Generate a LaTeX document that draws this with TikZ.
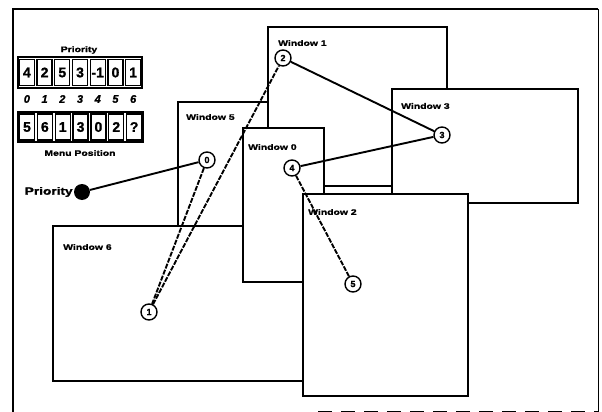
\documentclass[tikz,border=0pt]{standalone}
\usepackage{fontspec}
\newfontfamily\wfont[FakeStretch=1.3,FakeBold=1.5]{Liberation Sans}
\newfontfamily\nfont[FakeBold=1.2]{Liberation Sans}
\begin{document}
\begin{tikzpicture}[x=1pt,y=-1pt,
  win/.style={draw, line width=2pt, fill=white, anchor=north west, inner sep=0, outer sep=0},
  wlabel/.style={anchor=west, inner sep=0, font=\wfont\bfseries\fontsize{8}{9}\selectfont},
  ring/.style={circle, draw, line width=1.4pt, fill=white, minimum size=16pt, inner sep=0, font=\nfont\bfseries\fontsize{9}{9}\selectfont},
  link/.style={line width=1.9pt},
  dlink/.style={link, dash pattern=on 5pt off 1.4pt},
  cell/.style={draw, line width=1.3pt, minimum width=15pt, minimum height=26pt, inner sep=0, font=\nfont\bfseries\fontsize{14}{14}\selectfont},
  idx/.style={inner sep=0, font=\nfont\bfseries\itshape\fontsize{11}{11}\selectfont},
  small/.style={inner sep=0, font=\wfont\bfseries\fontsize{8}{9}\selectfont}]
\useasboundingbox (0,0) rectangle (602,412);
% frame
\draw[line width=2pt] (13,412) -- (13,9) -- (598,9);
\draw[line width=0.8pt] (598,9) -- (598,412);
\draw[line width=0.8pt, dash pattern=on 14pt off 9pt] (318,411) -- (598,411);
% priority table
\node[small] (ptitle) at (79,50) {Priority};
\draw[line width=1.8pt] (18,57) rectangle (142,88);
\foreach \v [count=\i from 0] in {4,2,5,3,-1,0,1}{
  \node[cell] (p\i) at ({26.9+17.71*\i},72.5) {\v};
}
\foreach \v [count=\i from 0] in {0,1,2,3,4,5,6}{
  \node[idx] (i\i) at ({26.9+17.71*\i},99) {\v};
}
\draw[line width=1.8pt] (18,112) rectangle (143,142);
\foreach \v [count=\i from 0] in {5,6,1,3,0,2,?}{
  \node[cell] (m\i) at ({27.0+17.85*\i},127) {\v};
}
\node[small] (mtitle) at (80,153) {Menu Position};
% windows (back to front)
\node[win, minimum width=122pt, minimum height=148pt] (w5) at (178,102) {};
\node[wlabel] (l5) at (186,117) {Window 5};
\node[win, minimum width=257pt, minimum height=155pt] (w6) at (53,226) {};
\node[wlabel] (l6) at (63,247) {Window 6};
\node[win, minimum width=179pt, minimum height=159pt] (w1) at (268,27) {};
\node[wlabel] (l1) at (278,43) {Window 1};
\node[win, minimum width=186pt, minimum height=114pt] (w3) at (392,89) {};
\node[wlabel] (l3) at (401,106) {Window 3};
\node[win, minimum width=81pt, minimum height=154pt] (w0) at (243,128) {};
\node[wlabel] (l0) at (248,147) {Window 0};
\node[win, minimum width=165pt, minimum height=202pt] (w2) at (303,194) {};
\node[wlabel] (l2) at (308,212) {Window 2};
% priority head
\node[circle, fill=black, minimum size=16pt, inner sep=0] (pdot) at (82,192) {};
\node[anchor=east, inner sep=1pt, font=\wfont\bfseries\fontsize{10.5}{11}\selectfont] (plabel) at (pdot.west) {Priority};
% list nodes
\node[ring] (c0) at (207,160) {0};
\node[ring] (c1) at (149,312) {1};
\node[ring] (c2) at (283,58) {2};
\node[ring] (c3) at (442,135) {3};
\node[ring] (c4) at (292,168) {4};
\node[ring] (c5) at (353,284) {5};
% links
\draw[link] (pdot) -- (c0);
\draw[dlink] (c0) -- (c1);
\draw[dlink] (c1) -- (c2);
\draw[link] (c2) -- (c3);
\draw[link] (c3) -- (c4);
\draw[dlink] (c4) -- (c5);
\end{tikzpicture}
\end{document}
